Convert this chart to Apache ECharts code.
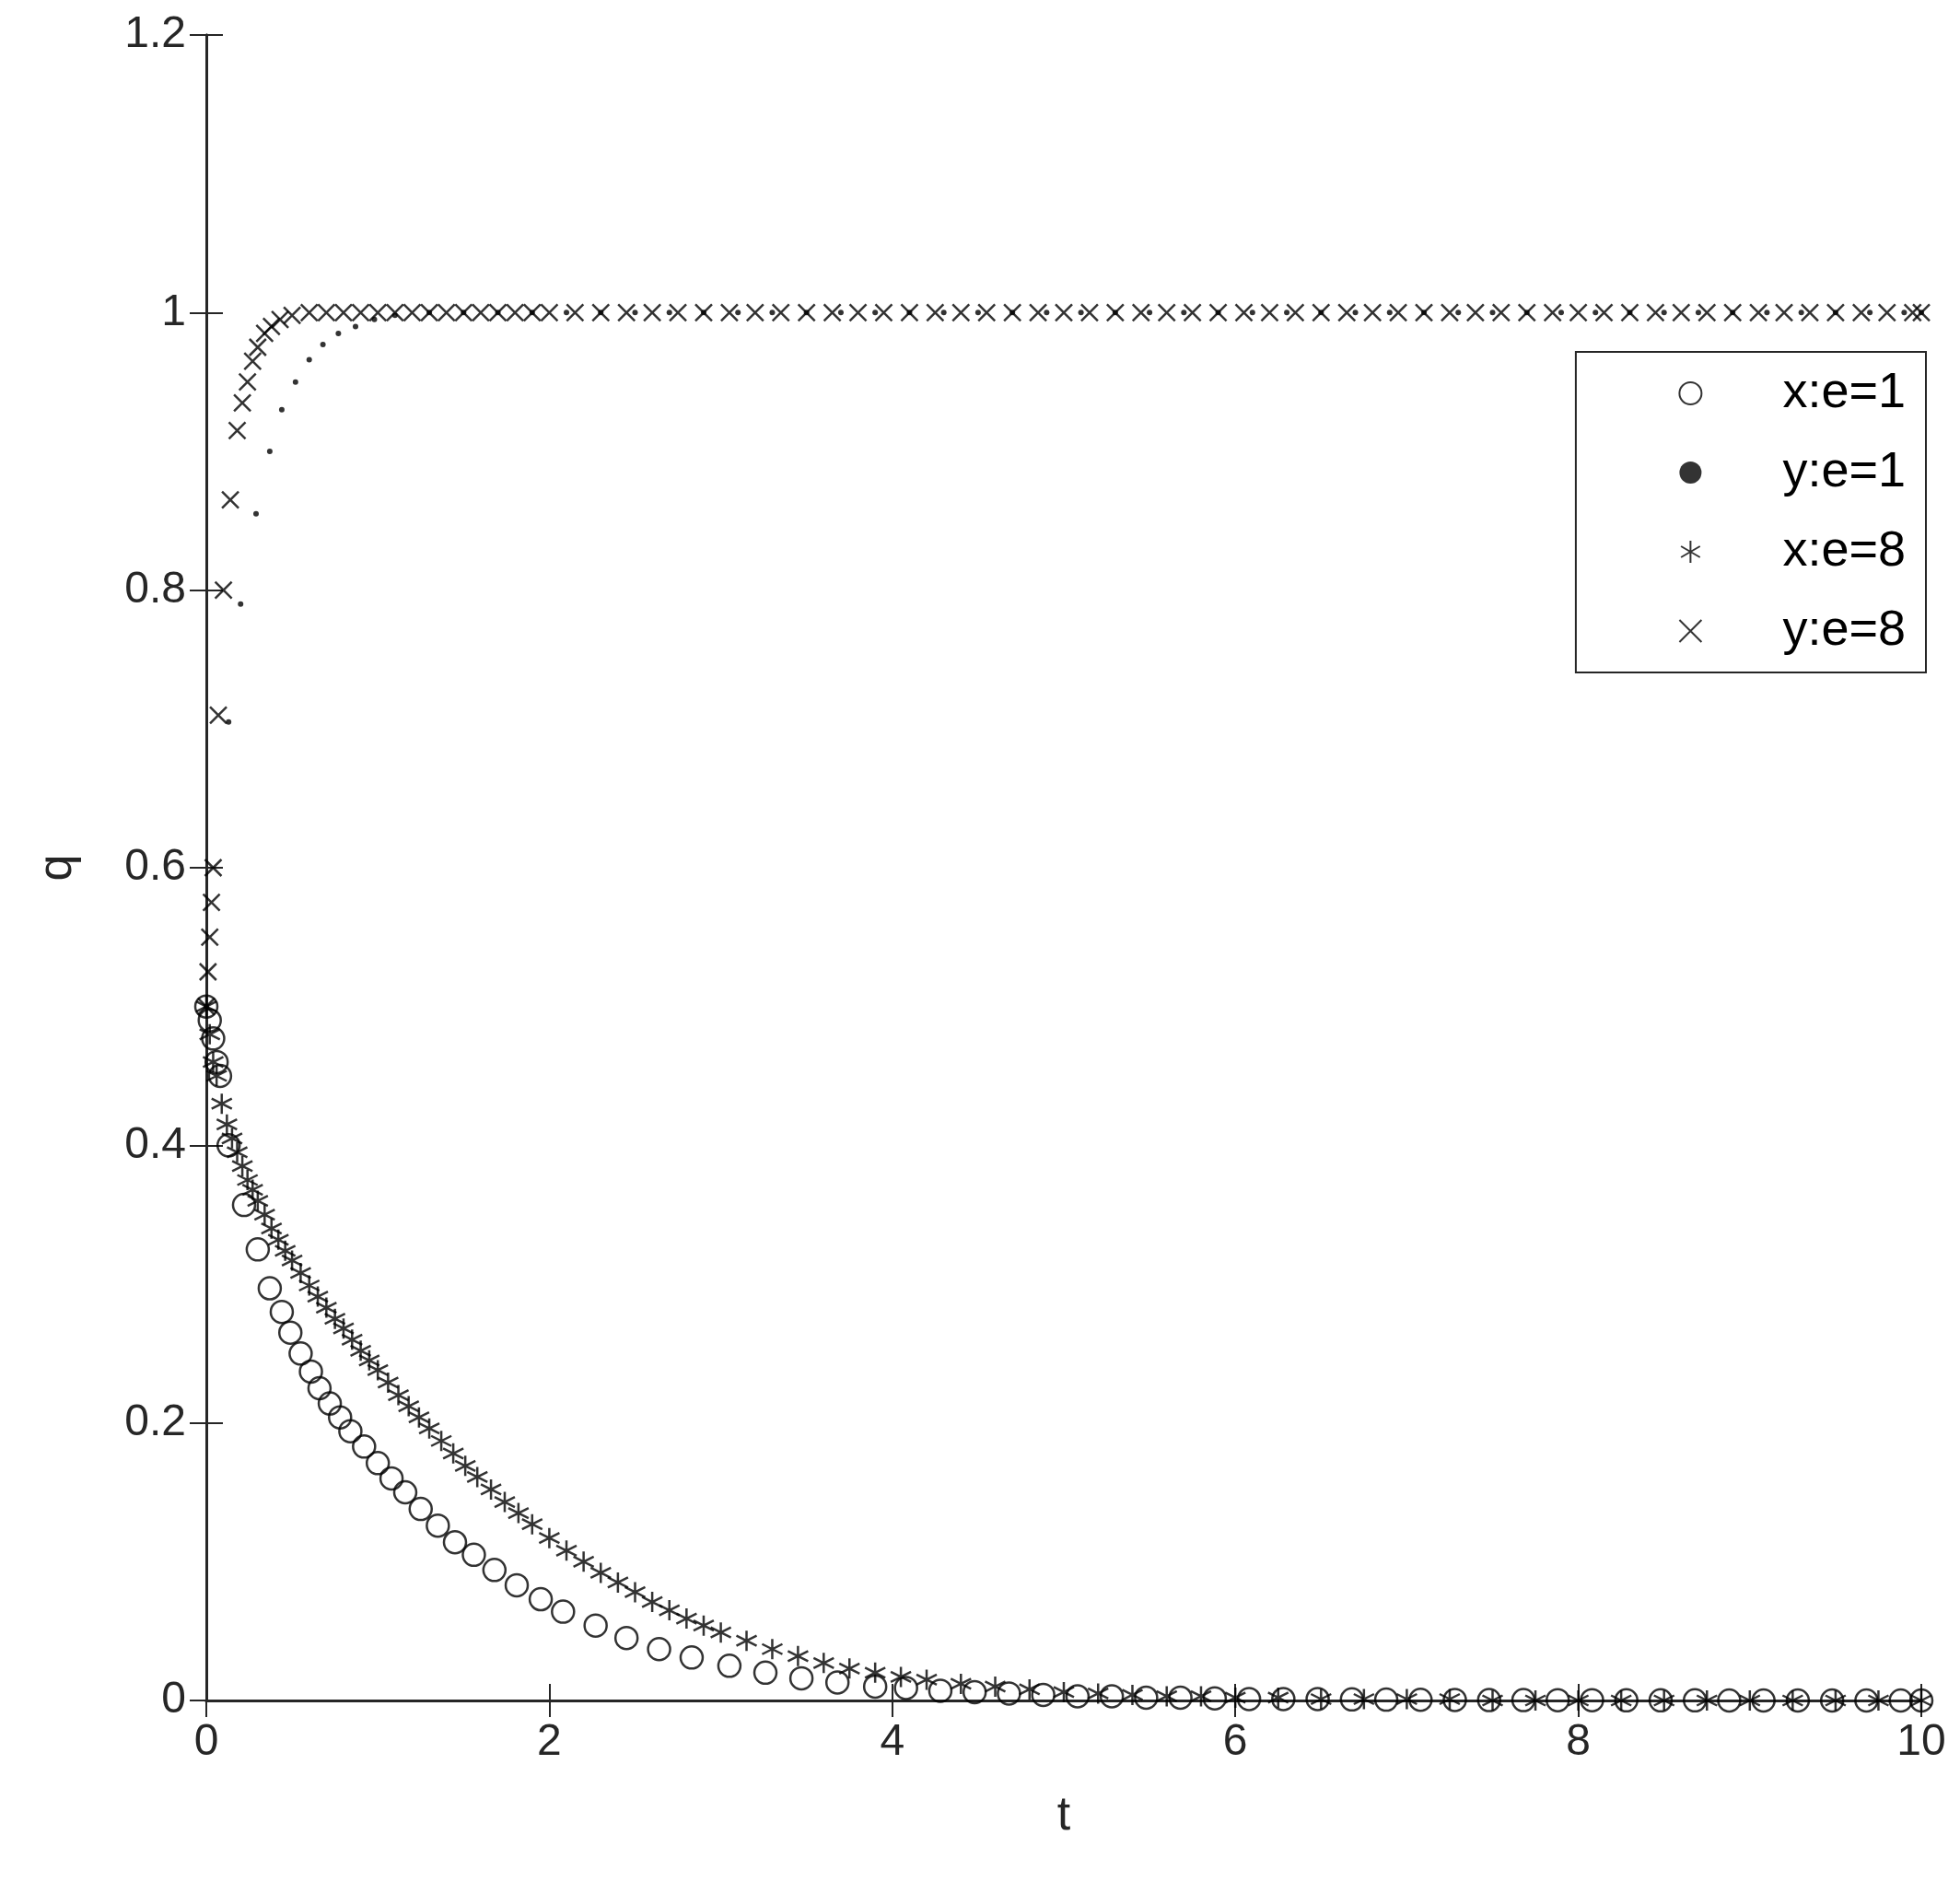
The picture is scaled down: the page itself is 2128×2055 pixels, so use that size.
<!DOCTYPE html>
<html><head><meta charset="utf-8">
<script src="https://cdn.jsdelivr.net/npm/echarts@6/dist/echarts.min.js"></script>
<style>html,body{margin:0;background:#fff}#c{width:2128px;height:2055px}</style>
</head><body><div id="c"></div>
<script>
const tailT = [4.28,4.48,4.68,4.88,5.08,5.28,5.48,5.68,5.88,6.08,6.28,6.48,6.68,6.88,7.08,7.28,7.48,7.68,7.88,8.08,8.28,8.48,8.68,8.88,9.08,9.28,9.48,9.68,9.88,10];
const xe1T = [0,0.02,0.04,0.06,0.08,0.13,0.22,0.30,0.37,0.44,0.49,0.55,0.61,0.66,0.72,0.78,0.84,0.92,1.0,1.08,1.16,1.25,1.35,1.45,1.56,1.68,1.81,1.95,2.08,2.27,2.45,2.64,2.83,3.05,3.26,3.47,3.68,3.90,4.08].concat(tailT);
const xe1Q = [0.5,0.49,0.477,0.46,0.45,0.4,0.357,0.325,0.297,0.28,0.265,0.25,0.237,0.225,0.214,0.204,0.194,0.183,0.171,0.16,0.15,0.138,0.126,0.114,0.105,0.094,0.083,0.073,0.064,0.054,0.045,0.037,0.031,0.025,0.02,0.016,0.013,0.01,0.009,
 0.007,0.006,0.005,0.004,0.003,0.003,0.002,0.002,0.0015,0.001,0.001,0.001,0.0008,0.0006,0.0005,0.0004,0.0003,0.0003,0.0002,0.0002,0.0001,0.0001,0.0001,0,0,0,0,0,0,0];
const ye1T = [0,0.13,0.2,0.29,0.37,0.44,0.52,0.6,0.68,0.77,0.87,0.98,1.1,1.3,1.5,1.7,1.9,2.1,2.3,2.5,2.7,2.9,3.1,3.3,3.5,3.7,3.9,4.1,4.3,4.5,4.7,4.9,5.1,5.3,5.5,5.7,5.9,6.1,6.3,6.5,6.7,6.9,7.1,7.3,7.5,7.7,7.9,8.1,8.3,8.5,8.7,8.9,9.1,9.3,9.5,9.7,9.9,10];
const ye1Q = [0.5,0.705,0.79,0.855,0.9,0.93,0.95,0.966,0.977,0.985,0.99,0.995,0.998,1,1,1,1,1,1,1,1,1,1,1,1,1,1,1,1,1,1,1,1,1,1,1,1,1,1,1,1,1,1,1,1,1,1,1,1,1,1,1,1,1,1,1,1,1];
const xe8T = [0,0.02,0.04,0.06,0.09,0.12,0.15,0.18,0.21,0.24,0.27,0.3,0.34,0.38,0.42,0.46,0.5,0.55,0.6,0.65,0.7,0.75,0.8,0.85,0.9,0.95,1.0,1.06,1.12,1.18,1.24,1.3,1.37,1.44,1.51,1.58,1.66,1.74,1.82,1.9,2.0,2.1,2.2,2.3,2.4,2.5,2.6,2.7,2.8,2.9,3.0,3.15,3.3,3.45,3.6,3.75,3.9,4.05,4.2,4.4,4.6,4.8,5.0,5.2,5.4,5.6,5.8,6.0,6.25,6.5,6.75,7.0,7.25,7.5,7.75,8.0,8.25,8.5,8.75,9.0,9.25,9.5,9.75,10];
const xe8Q = [0.5,0.48,0.46,0.45,0.43,0.415,0.405,0.395,0.385,0.375,0.368,0.36,0.35,0.34,0.332,0.324,0.317,0.308,0.299,0.291,0.283,0.275,0.268,0.26,0.252,0.245,0.238,0.229,0.22,0.212,0.204,0.196,0.187,0.178,0.169,0.161,0.152,0.143,0.135,0.127,0.117,0.108,0.1,0.092,0.085,0.078,0.071,0.065,0.059,0.054,0.049,0.043,0.037,0.032,0.027,0.023,0.02,0.017,0.015,0.012,0.01,0.008,0.006,0.005,0.004,0.003,0.003,0.002,0.002,0.001,0.001,0.001,0.001,0,0,0,0,0,0,0,0,0,0,0];
const ye8T = [0,0.01,0.02,0.03,0.04,0.07,0.1,0.14,0.18,0.21,0.24,0.27,0.3,0.34,0.38,0.43,0.5,0.6,0.7,0.8,0.9,1.0,1.1,1.2,1.3,1.4,1.5,1.6,1.7,1.8,1.9,2.0,2.15,2.3,2.45,2.6,2.75,2.9,3.05,3.2,3.35,3.5,3.65,3.8,3.95,4.1,4.25,4.4,4.55,4.7,4.85,5.0,5.15,5.3,5.45,5.6,5.75,5.9,6.05,6.2,6.35,6.5,6.65,6.8,6.95,7.1,7.25,7.4,7.55,7.7,7.85,8.0,8.15,8.3,8.45,8.6,8.75,8.9,9.05,9.2,9.35,9.5,9.65,9.8,9.95,10];
const ye8Q = ye8T.map((t,i)=>[0.5,0.525,0.55,0.575,0.6,0.71,0.8,0.865,0.915,0.935,0.95,0.965,0.975,0.985,0.99,0.995,0.998][i] ?? 1);
const yTicks = [0,0.2,0.4,0.6,0.8,1,1.2];

const pair = (T,Q)=>T.map((t,i)=>[t,Q[i]]);
const asterisk = 'path://M5 0L5 10M0.7 2.5L9.3 7.5M0.7 7.5L9.3 2.5';
const xmark = 'path://M0 0L10 10M10 0L0 10';
const font = 'Liberation Sans, Arial, sans-serif';
const axCommon = {axisLine:{show:true,lineStyle:{color:'#262626',width:3}},axisTick:{inside:true,length:18,lineStyle:{color:'#262626',width:2}},splitLine:{show:false}};
const chart = echarts.init(document.getElementById('c'));
chart.setOption({
  animation:false,
  grid:{left:224,right:42,top:38,bottom:209},
  xAxis:[
    Object.assign({type:'value',min:0,max:10,interval:2,name:'t',nameLocation:'middle',nameGap:100,nameTextStyle:{fontSize:52,color:'#262626',fontFamily:font},axisLabel:{fontSize:48,color:'#262626',fontFamily:font,margin:22}},axCommon),
    Object.assign({type:'value',min:0,max:10,interval:2,position:'top',axisLabel:{show:false}},axCommon)
  ],
  yAxis:[
    Object.assign({type:'value',min:0,max:1.2,interval:0.2,name:'q',nameLocation:'middle',nameGap:135,nameTextStyle:{fontSize:52,color:'#262626',fontFamily:font},axisLabel:{fontSize:48,color:'#262626',fontFamily:font,margin:22,formatter:v=>String(+v.toFixed(1))}},axCommon),
    Object.assign({type:'value',min:0,max:1.2,interval:0.2,position:'right',axisLabel:{show:false}},axCommon)
  ],
  legend:{orient:'vertical',right:37,top:382,width:425,backgroundColor:'#fff',borderColor:'#262626',borderWidth:2,padding:[18,22,18,110],itemGap:32,itemWidth:30,itemHeight:24,
    textStyle:{fontSize:54,color:'#000',fontFamily:font,padding:[0,0,0,80]},
    data:['x:e=1','y:e=1','x:e=8','y:e=8']},
  series:[
    {name:'x:e=1',type:'scatter',data:pair(xe1T,xe1Q),symbol:'circle',symbolSize:24,itemStyle:{color:'rgba(255,255,255,0)',borderColor:'#000',borderWidth:2.5}},
    {name:'y:e=1',type:'scatter',data:pair(ye1T,ye1Q),symbol:'circle',symbolSize:6,itemStyle:{color:'#000'}},
    {name:'x:e=8',type:'scatter',data:pair(xe8T,xe8Q),symbol:asterisk,symbolSize:22,itemStyle:{color:'none',borderColor:'#000',borderWidth:2.5}},
    {name:'y:e=8',type:'scatter',data:pair(ye8T,ye8Q),symbol:xmark,symbolSize:18,itemStyle:{color:'none',borderColor:'#000',borderWidth:2.5}}
  ]
});
</script></body></html>
